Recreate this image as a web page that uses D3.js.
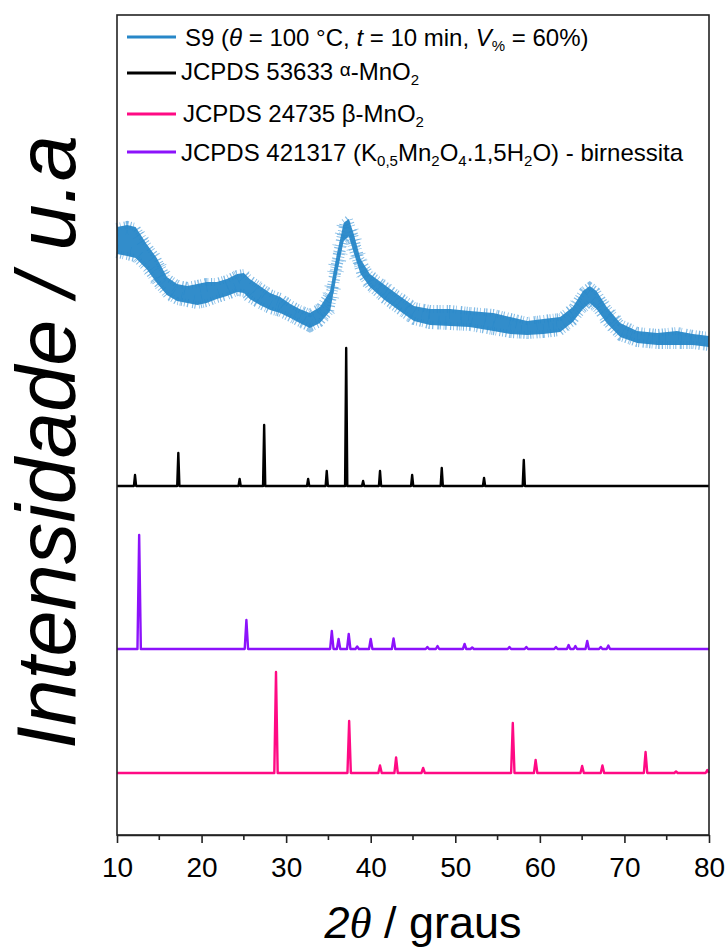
<!DOCTYPE html>
<html><head><meta charset="utf-8">
<script src="https://cdn.jsdelivr.net/npm/d3@7"></script>
<style>
body{margin:0;background:#fff}
svg{display:block}
text{font-family:"Liberation Sans",Arial,sans-serif;fill:#000}
</style>
</head><body>
<svg id="c" width="727" height="950"></svg>
<script>
// ---------- DATA ----------
const xTicks = [10, 20, 30, 40, 50, 60, 70, 80];
const xMinorTicks = [15, 25, 35, 45, 55, 65, 75];

const s9Angle = [10.0, 11.2, 12.2, 13.5, 14.7, 15.9, 17.1, 18.3, 19.5, 20.6, 21.8, 23.0, 24.2, 25.0, 25.7, 26.9, 28.1, 29.3, 30.5, 31.6, 32.8, 34.0, 35.2, 36.0, 36.8, 37.4, 38.0, 38.8, 39.9, 41.5, 43.1, 45.1, 47.0, 49.4, 51.7, 54.5, 56.5, 58.5, 60.4, 62.4, 63.9, 65.1, 65.9, 66.7, 67.9, 69.5, 71.5, 73.9, 76.2, 78.1, 80.0];
const s9Upper = [612, 614, 612, 595, 581, 562, 555, 553, 555, 557, 557, 560, 565, 566, 560, 553, 546, 542, 535, 530, 526, 532, 548, 585, 616, 620, 605, 580, 565, 555, 545, 533, 530, 530, 528, 526, 522, 518, 520, 522, 532, 548, 553, 548, 532, 516, 508, 506, 508, 505, 503];
const s9Lower = [577, 575, 573, 562, 548, 536, 530, 528, 526, 528, 532, 535, 539, 538, 532, 526, 521, 518, 513, 508, 503, 508, 520, 557, 590, 595, 578, 557, 544, 532, 522, 510, 506, 505, 504, 500, 497, 496, 497, 499, 509, 522, 528, 522, 508, 494, 488, 486, 486, 486, 484];

// JCPDS 53633 alpha-MnO2
const alphaPos = [12.13, 17.25, 24.5, 27.4, 32.6, 34.8, 37.1, 39.1, 41.1, 44.9, 48.4, 53.4, 58.1];
const alphaInt = [11, 33, 7, 61, 7, 15, 138, 5, 15, 11, 18, 8, 26];

// JCPDS 421317 birnessite
const birnPos = [12.62, 25.3, 35.4, 36.2, 37.4, 38.4, 40.0, 42.7, 46.7, 47.9, 51.1, 52.0, 56.4, 58.4, 61.9, 63.4, 64.2, 65.6, 67.2, 68.1];
const birnInt = [114, 29, 18, 10, 15, 2.5, 10, 10.5, 2, 3, 5, 1.5, 2, 2, 2, 4, 3, 8, 2, 3.5];

// JCPDS 24735 beta-MnO2
const betaPos = [28.8, 37.45, 41.1, 43.0, 46.2, 56.8, 59.5, 65.0, 67.4, 72.5, 76.1, 79.8];
const betaInt = [101, 52, 7.5, 15.5, 5, 50, 13, 7, 7.5, 21, 1.5, 3];

// ---------- LAYOUT / STYLE ----------
const M = {left: 117, right: 709, top: 15, bottom: 835};
const colors = {s9: "#2787c8", s9light: "#6aaee0", alpha: "#000000", beta: "#ff0a84", birn: "#8c12fb"};
const offsets = {beta: 62, birn: 186, alpha: 349};
const hair = 4; // half-length of the fringe strokes (px)
const fringeStyles = [
  {w: 8, shift: 4, op: 0.85, dash: ["1 2.2 0.7 3.3 1.2 1.5 0.8 2.7 1.1 1.8 0.7 4.1 1.3 2.3 0.9 1.4 1 3 0.8 2.5 1.2 1.7", "0.8 2.6 1.2 1.4 0.7 3.1 1 1.9 0.9 2.2 1.3 4 0.8 1.6 1.1 2.8 0.7 1.3 1 3.4 1.2 2"]},
  {w: 14, shift: 7, op: 0.7, dash: ["0.8 9 1 14 0.7 6 1.1 19 0.8 11 0.9 7 1 16", "0.9 12 0.7 8 1 17 0.8 10 1.1 6 0.7 15 0.9 9"]}
];

const svg = d3.select("#c");
const x = d3.scaleLinear().domain([10, 80]).range([M.left, M.right]);
const y = d3.scaleLinear().domain([0, 820]).range([M.bottom, M.top]);

const plot = svg.append("g");

// S9 band
const band = s9Angle.map((a, i) => ({a, u: s9Upper[i], l: s9Lower[i]}));
fringeStyles.forEach(fs => {
  ["u", "l"].forEach((k, j) => {
    plot.append("path")
      .datum(band)
      .attr("d", d3.line().x(d => x(d.a)).y(d => y(d[k]) + (j ? -fs.shift : fs.shift)))
      .attr("fill", "none")
      .attr("stroke", colors.s9light)
      .attr("stroke-width", fs.w)
      .attr("stroke-dasharray", fs.dash[j])
      .attr("stroke-opacity", fs.op);
  });
});
plot.append("path")
  .datum(band)
  .attr("d", d3.area().x(d => x(d.a)).y0(d => y(d.l) - hair).y1(d => y(d.u) + hair))
  .attr("fill", colors.s9)
  .attr("fill-opacity", 0.95);

// stick/peak patterns
function pattern(pos, inten, off, halfW) {
  const pts = [[10, 0]];
  pos.forEach((p, i) => {
    pts.push([p - halfW, 0], [p, inten[i]], [p + halfW, 0]);
  });
  pts.push([80, 0]);
  pts.sort((a, b) => a[0] - b[0]);
  return pts.map(d => [d[0], d[1] + off]);
}
const line = d3.line().x(d => x(d[0])).y(d => y(d[1]));
plot.append("path").attr("d", line(pattern(alphaPos, alphaInt, offsets.alpha, 0.13)))
  .attr("fill", "none").attr("stroke", colors.alpha).attr("stroke-width", 2.4).attr("stroke-linejoin", "round");
plot.append("path").attr("d", line(pattern(birnPos, birnInt, offsets.birn, 0.2)))
  .attr("fill", "none").attr("stroke", colors.birn).attr("stroke-width", 2.4).attr("stroke-linejoin", "round");
plot.append("path").attr("d", line(pattern(betaPos, betaInt, offsets.beta, 0.2)))
  .attr("fill", "none").attr("stroke", colors.beta).attr("stroke-width", 2.4).attr("stroke-linejoin", "round");

// frame
svg.append("rect").attr("x", M.left).attr("y", M.top)
  .attr("width", M.right - M.left).attr("height", M.bottom - M.top)
  .attr("fill", "none").attr("stroke", "#222").attr("stroke-width", 1.6);

// x axis
const ax = svg.append("g").attr("transform", `translate(0,${M.bottom})`)
  .call(d3.axisBottom(x).tickValues(xTicks).tickSize(8).tickSizeOuter(0).tickPadding(14));
ax.select(".domain").attr("stroke", "#222").attr("stroke-width", 1.6);
ax.selectAll(".tick line").attr("stroke", "#222").attr("stroke-width", 1.6);
ax.selectAll(".tick text").attr("font-size", 28).attr("font-family", "Liberation Sans, Arial, sans-serif").attr("fill", "#000");
svg.append("g").attr("transform", `translate(0,${M.bottom})`)
  .selectAll("line").data(xMinorTicks).join("line")
  .attr("x1", d => x(d)).attr("x2", d => x(d)).attr("y1", 0).attr("y2", 5)
  .attr("stroke", "#222").attr("stroke-width", 1.6);

// axis titles
const xt = svg.append("text").attr("x", 423).attr("y", 938).attr("text-anchor", "middle").attr("font-size", 45);
xt.append("tspan").attr("font-style", "italic").text("2");
xt.append("tspan").attr("font-style", "italic").attr("font-family", "Liberation Serif, serif").text("θ");
xt.append("tspan").text(" / graus");

svg.append("text").attr("transform", "translate(75,442) rotate(-90)")
  .attr("text-anchor", "middle").attr("font-size", 83).attr("font-style", "italic")
  .text("Intensidade / u.a");

// legend
const legRows = [
  {c: colors.s9, ly: 37, by: 46, tx: 185},
  {c: colors.alpha, ly: 73, by: 80, tx: 181},
  {c: colors.beta, ly: 114, by: 122, tx: 183},
  {c: colors.birn, ly: 152, by: 161, tx: 181}
];
const leg = svg.append("g");
legRows.forEach(r => {
  leg.append("line").attr("x1", 127).attr("x2", 176).attr("y1", r.ly).attr("y2", r.ly)
    .attr("stroke", r.c).attr("stroke-width", 3);
});
function addText(r, parts) {
  const t = leg.append("text").attr("x", r.tx).attr("y", r.by).attr("font-size", 24);
  parts.forEach(p => {
    const s = t.append("tspan").text(p.t);
    if (p.i) s.attr("font-style", "italic");
    if (p.sub) s.attr("font-size", 15).attr("dy", 5);
    if (p.back) s.attr("dy", -5);
    if (p.sup) s.attr("font-size", 19).attr("dy", -4);
    if (p.supBack) s.attr("dy", 4);
  });
}
addText(legRows[0], [{t: "S9 ("}, {t: "θ", i: true}, {t: " = 100 °C, "}, {t: "t", i: true}, {t: " = 10 min, "}, {t: "V", i: true}, {t: "%", sub: true}, {t: " = 60%)", back: true}]);
addText(legRows[1], [{t: "JCPDS 53633 "}, {t: "α", sup: true}, {t: "-MnO", supBack: true}, {t: "2", sub: true}]);
addText(legRows[2], [{t: "JCPDS 24735 β-MnO"}, {t: "2", sub: true}]);
addText(legRows[3], [{t: "JCPDS 421317 (K"}, {t: "0,5", sub: true}, {t: "Mn", back: true}, {t: "2", sub: true}, {t: "O", back: true}, {t: "4", sub: true}, {t: ".1,5H", back: true}, {t: "2", sub: true}, {t: "O) - birnessita", back: true}]);
</script>
</body></html>
